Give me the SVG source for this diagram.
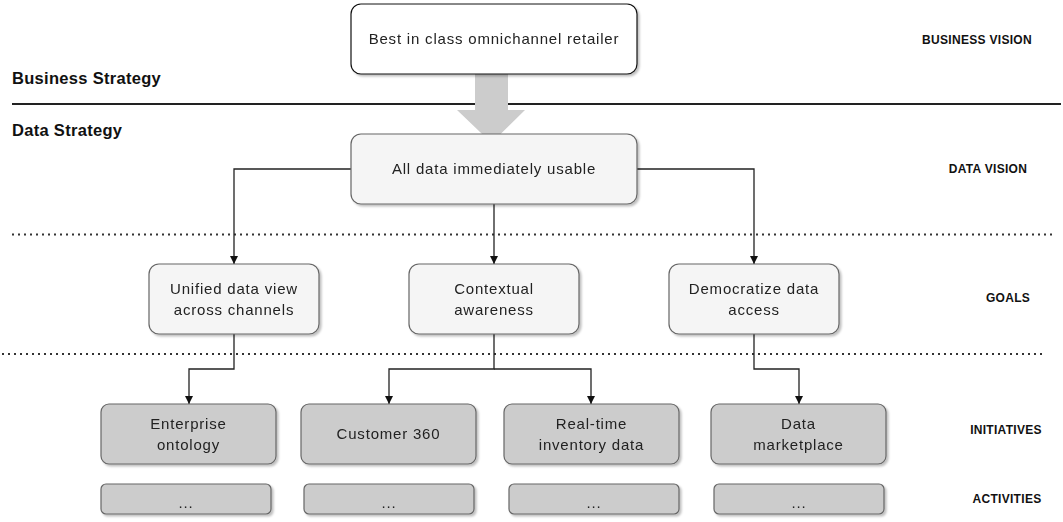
<svg xmlns="http://www.w3.org/2000/svg" width="1063" height="522" viewBox="0 0 1063 522">
<style>
.t{font-family:"Liberation Sans",Arial,sans-serif;font-size:15px;letter-spacing:0.8px;fill:#222;text-anchor:middle}
.h{font-family:"Liberation Sans",Arial,sans-serif;font-size:16.5px;font-weight:bold;letter-spacing:0.3px;fill:#111}
.lab{font-family:"Liberation Sans",Arial,sans-serif;font-size:12px;font-weight:bold;letter-spacing:0.3px;fill:#111;text-anchor:middle}
.vis{fill:#fff;stroke:#111;stroke-width:1.2}
.goal{fill:#f5f5f5;stroke:#666;stroke-width:1.2}
.ini{fill:#cccccc;stroke:#666;stroke-width:1.2}
.con{fill:none;stroke:#222;stroke-width:1.3}
.dot{stroke:#333;stroke-width:2;stroke-dasharray:2 4}
</style>
<defs>
<filter id="sh" x="-10%" y="-10%" width="130%" height="140%">
<feDropShadow dx="2" dy="2" stdDeviation="1" flood-color="#000" flood-opacity="0.25"/>
</filter>
<marker id="ar" viewBox="0 0 10 10" refX="10" refY="5" markerWidth="8" markerHeight="8" markerUnits="userSpaceOnUse" orient="auto">
<path d="M0,0 L10,5 L0,10 z" fill="#111"/>
</marker>
</defs>

<g id="separators">
<line x1="12" y1="104" x2="1061" y2="104" stroke="#222" stroke-width="2"/>
<line class="dot" x1="12" y1="234.5" x2="1052" y2="234.5"/>
<line class="dot" x1="2" y1="354" x2="1042" y2="354"/>
</g>

<g id="section-labels">
<text class="h" x="12" y="84">Business Strategy</text>
<text class="h" x="12" y="136">Data Strategy</text>
<text class="lab" x="977" y="44">BUSINESS VISION</text>
<text class="lab" x="988" y="173">DATA VISION</text>
<text class="lab" x="1008" y="302">GOALS</text>
<text class="lab" x="1006" y="434">INITIATIVES</text>
<text class="lab" x="1007" y="503">ACTIVITIES</text>
</g>

<g id="block-arrow">
<path d="M475,74 L508,74 L508,110 L525,110 L491.5,143 L457,110 L475,110 z" fill="#cccccc"/>
</g>

<g id="connectors">
<path class="con" d="M351,169 H234 V264" marker-end="url(#ar)"/>
<path class="con" d="M494,204 V264" marker-end="url(#ar)"/>
<path class="con" d="M637,169 H754 V264" marker-end="url(#ar)"/>
<path class="con" d="M234,334 V369 H189 V404" marker-end="url(#ar)"/>
<path class="con" d="M494,334 V369 H389 V404" marker-end="url(#ar)"/>
<path class="con" d="M494,369 H591 V404" marker-end="url(#ar)"/>
<path class="con" d="M754,334 V369 H799 V404" marker-end="url(#ar)"/>
</g>

<g id="business-vision" filter="url(#sh)">
<rect class="vis" x="351" y="4" width="286" height="70" rx="10"/>
<text class="t" x="494" y="44">Best in class omnichannel retailer</text>
</g>

<g id="data-vision" filter="url(#sh)">
<rect class="goal" x="351" y="134" width="286" height="70" rx="10"/>
<text class="t" x="494" y="174">All data immediately usable</text>
</g>

<g id="goal-unified" filter="url(#sh)">
<rect class="goal" x="149" y="264" width="170" height="70" rx="10"/>
<text class="t" x="234" y="294">Unified data view</text>
<text class="t" x="234" y="315">across channels</text>
</g>
<g id="goal-contextual" filter="url(#sh)">
<rect class="goal" x="409" y="264" width="170" height="70" rx="10"/>
<text class="t" x="494" y="294">Contextual</text>
<text class="t" x="494" y="315">awareness</text>
</g>
<g id="goal-democratize" filter="url(#sh)">
<rect class="goal" x="669" y="264" width="170" height="70" rx="10"/>
<text class="t" x="754" y="294">Democratize data</text>
<text class="t" x="754" y="315">access</text>
</g>

<g id="init-ontology" filter="url(#sh)">
<rect class="ini" x="101" y="404" width="175" height="60" rx="8"/>
<text class="t" x="188.5" y="429">Enterprise</text>
<text class="t" x="188.5" y="450">ontology</text>
</g>
<g id="init-customer360" filter="url(#sh)">
<rect class="ini" x="301" y="404" width="175" height="60" rx="8"/>
<text class="t" x="388.5" y="439">Customer 360</text>
</g>
<g id="init-inventory" filter="url(#sh)">
<rect class="ini" x="504" y="404" width="175" height="60" rx="8"/>
<text class="t" x="591.5" y="429">Real-time</text>
<text class="t" x="591.5" y="450">inventory data</text>
</g>
<g id="init-marketplace" filter="url(#sh)">
<rect class="ini" x="711" y="404" width="175" height="60" rx="8"/>
<text class="t" x="798.5" y="429">Data</text>
<text class="t" x="798.5" y="450">marketplace</text>
</g>

<g id="act-1" filter="url(#sh)">
<rect class="ini" x="101" y="484" width="170" height="30" rx="5"/>
<text class="t" x="186" y="508">...</text>
</g>
<g id="act-2" filter="url(#sh)">
<rect class="ini" x="304" y="484" width="170" height="30" rx="5"/>
<text class="t" x="389" y="508">...</text>
</g>
<g id="act-3" filter="url(#sh)">
<rect class="ini" x="509" y="484" width="170" height="30" rx="5"/>
<text class="t" x="594" y="508">...</text>
</g>
<g id="act-4" filter="url(#sh)">
<rect class="ini" x="714" y="484" width="170" height="30" rx="5"/>
<text class="t" x="799" y="508">...</text>
</g>
</svg>
